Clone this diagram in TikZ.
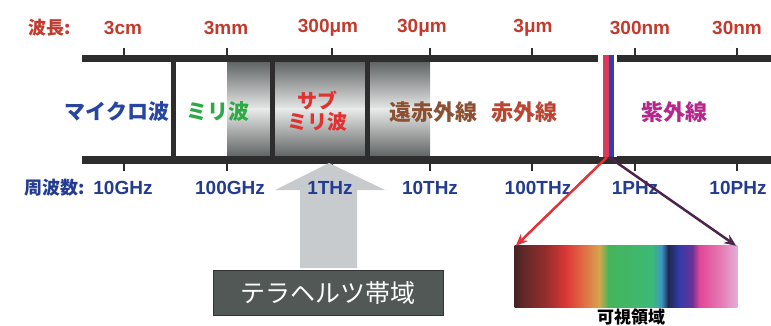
\documentclass[tikz,border=0pt]{standalone}
\usepackage{fontspec}
\setmainfont{Liberation Sans}
\newfontfamily\jp{Noto Sans CJK JP}
\usetikzlibrary{arrows.meta}
\definecolor{barc}{RGB}{45,45,45}
\definecolor{wavered}{RGB}{195,58,45}
\definecolor{freqblue}{RGB}{35,60,145}
\definecolor{microblue}{RGB}{40,70,160}
\definecolor{milligreen}{RGB}{45,170,70}
\definecolor{subred}{RGB}{225,50,50}
\definecolor{farbrown}{RGB}{140,80,50}
\definecolor{irred}{RGB}{185,70,50}
\definecolor{uvmag}{RGB}{180,40,140}
\definecolor{arrowgray}{RGB}{200,203,205}
\definecolor{boxgray}{RGB}{82,88,86}
\definecolor{shadedark}{RGB}{95,98,98}
\definecolor{shadelight}{RGB}{232,234,234}
\definecolor{stripred}{RGB}{215,60,90}
\definecolor{stripblue}{RGB}{55,60,175}
\definecolor{purparrow}{RGB}{75,35,75}
\definecolor{arrred}{RGB}{225,50,55}
\definecolor{s0}{RGB}{70,35,35}
\definecolor{s1}{RGB}{100,40,40}
\definecolor{s2}{RGB}{150,45,45}
\definecolor{s3}{RGB}{220,55,55}
\definecolor{s4}{RGB}{225,110,70}
\definecolor{s5}{RGB}{215,165,75}
\definecolor{s6}{RGB}{70,180,90}
\definecolor{s7}{RGB}{60,185,120}
\definecolor{s8}{RGB}{60,150,200}
\definecolor{s9}{RGB}{30,40,80}
\definecolor{s10}{RGB}{50,60,170}
\definecolor{s11}{RGB}{110,50,150}
\definecolor{s12}{RGB}{225,70,150}
\definecolor{s13}{RGB}{230,130,185}
\definecolor{s14}{RGB}{225,175,215}
\tikzset{
  bar/.style={draw=barc, line width=7pt},
  divider/.style={draw=barc, line width=5pt},
  tick/.style={draw=barc, line width=2.5pt},
  wl/.style={font=\bfseries\fontsize{19}{21}\selectfont, text=wavered, inner sep=0pt},
  fq/.style={font=\bfseries\fontsize{19}{21}\selectfont, text=freqblue, inner sep=0pt},
  region/.style={font=\jp\bfseries\fontsize{21}{23}\selectfont, inner sep=0pt, align=center},
  conn/.style={line width=2.5pt, -{Stealth[length=12pt,width=10pt]}},
}
\begin{document}
\begin{tikzpicture}[x=1pt,y=-1pt]
\useasboundingbox (0,0) rectangle (771,326);
% shaded region (dark at top and bottom, light in the middle)
\shade[top color=shadedark, bottom color=shadelight] (227,61) rectangle (430,109.5);
\shade[top color=shadelight, bottom color=shadedark] (227,109) rectangle (430,157);
% bars
\draw[bar] (82,58.5) -- (598,58.5);
\draw[bar] (617,58.5) -- (771,58.5);
\draw[bar] (82,160) -- (771,160);
% ticks
\foreach \x in {124,227,332,430,532,635,737}{
  \draw[tick] (\x,48) -- (\x,56);
  \draw[tick] (\x,162) -- (\x,171);
}
% dividers
\foreach \x in {173,272,367}{ \draw[divider] (\x,58) -- (\x,160); }
% visible strip
\node[name=strip, minimum width=18pt, minimum height=102pt, inner sep=0pt, fill=white] at (608,106) {};
\fill[stripred] (602.5,55) rectangle (608.5,157);
\fill[stripblue] (608.5,55) rectangle (613.5,157);
% wavelength labels
\node[wl, font=\jp\bfseries\fontsize{18}{20}\selectfont] (wlhead) at (50,28) {波長:};
\node[wl] (w1) at (123,28) {3cm};
\node[wl] (w2) at (226,28) {3mm};
\node[wl] (w3) at (328,28) {300μm};
\node[wl] (w4) at (422,28) {30μm};
\node[wl] (w5) at (533,28) {3μm};
\node[wl] (w6) at (640,28) {300nm};
\node[wl] (w7) at (737,28) {30nm};
% big gray arrow
\fill[arrowgray] (300,268) -- (300,190) -- (275,190) -- (329,163) -- (385,190) -- (357,190) -- (357,268) -- cycle;
% frequency labels
\node[fq, font=\jp\bfseries\fontsize{18}{20}\selectfont] (fqhead) at (55,188) {周波数:};
\node[fq] (f1) at (123,188) {10GHz};
\node[fq] (f2) at (230,188) {100GHz};
\node[fq] (f3) at (330,188) {1THz};
\node[fq] (f4) at (430,188) {10THz};
\node[fq] (f5) at (538,188) {100THz};
\node[fq] (f6) at (635,188) {1PHz};
\node[fq] (f7) at (738,188) {10PHz};
% region labels
\node[region, text=microblue] (micro) at (117,112) {マイクロ波};
\node[region, text=milligreen] (milli) at (218,112) {ミリ波};
\node[region, text=subred, font=\jp\bfseries\fontsize{20}{21}\selectfont] (submilli) at (317,111) {サブ\\ミリ波};
\node[region, text=farbrown, font=\jp\bfseries\fontsize{22}{24}\selectfont] (farir) at (433,112) {遠赤外線};
\node[region, text=irred, font=\jp\bfseries\fontsize{22}{24}\selectfont] (ir) at (524,112) {赤外線};
\node[region, text=uvmag, font=\jp\bfseries\fontsize{22}{24}\selectfont] (uv) at (674,112) {紫外線};
% terahertz box
\node[draw=black!80, line width=1pt, fill=boxgray, minimum width=230pt, minimum height=45pt, inner sep=0pt,
      text=white, font=\jp\fontsize{25}{27}\selectfont] (thz) at (328,292.5) {テラヘルツ帯域};
% visible spectrum
\node[minimum width=222pt, minimum height=62pt, inner sep=0pt] (spec) at (626,276) {};
\foreach \a/\b/\ca/\cb in {0/0.04/s0/s1, 0.04/0.14/s1/s2, 0.14/0.23/s2/s3, 0.23/0.31/s3/s4, 0.31/0.38/s4/s5,
   0.38/0.42/s5/s6, 0.42/0.62/s6/s7, 0.62/0.66/s7/s8, 0.66/0.69/s8/s9, 0.69/0.74/s9/s10, 0.74/0.80/s10/s11,
   0.80/0.83/s11/s12, 0.83/0.94/s12/s13, 0.94/1/s13/s14}{
  \shade[left color=\ca, right color=\cb] ({515+\a*222-0.3},245) rectangle ({515+\b*222+0.3},307);
}
\node[font=\jp\bfseries\fontsize{17}{19}\selectfont, inner sep=0pt] (vislabel) at (631,317.5) {可視領域};
% arrows
\draw[conn, arrred] ([xshift=-1pt]strip.south) -- ([xshift=1pt,yshift=-1pt]spec.north west);
\draw[conn, purparrow] ([xshift=1pt]strip.south) -- ([xshift=-1pt,yshift=-1pt]spec.north east);
\end{tikzpicture}
\end{document}
